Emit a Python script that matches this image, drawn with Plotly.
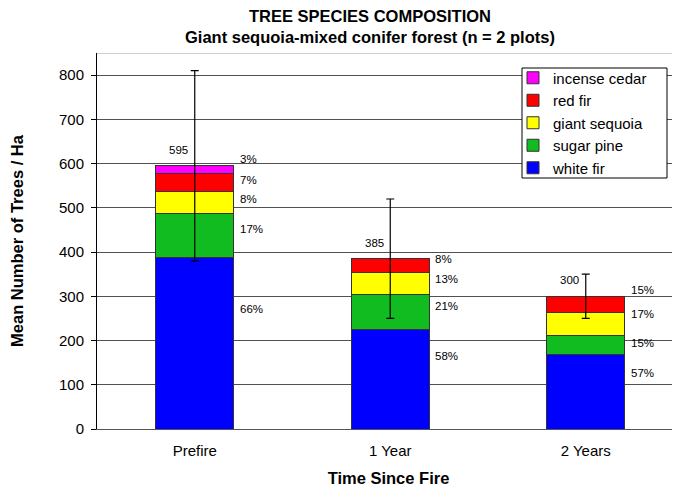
import plotly.graph_objects as go

# ---- data ----
categories = ["Prefire", "1 Year", "2 Years"]
species = ["white fir", "sugar pine", "giant sequoia", "red fir", "incense cedar"]
white_fir = [388, 224, 168]
sugar_pine = [99, 79, 44]
giant_sequoia = [51, 50, 51]
red_fir = [40, 32, 37]
incense_cedar = [17, 0, 0]
totals = [595, 385, 300]
error_sd = [215, 135, 50]
pct_labels = [
    ["66%", "17%", "8%", "7%", "3%"],
    ["58%", "21%", "13%", "8%", ""],
    ["57%", "15%", "17%", "15%", ""],
]
# label anchor heights (in y-axis units) as placed in the original chart
pct_label_y = [
    [271, 453, 521, 564, 611],
    [165, 278, 340, 385, None],
    [126, 195, 260, 315, None],
]
colors = ["#0000FF", "#10BC20", "#FFFF00", "#FF0000", "#FF00FF"]

FONT = "Liberation Sans, Arial, sans-serif"
series = [white_fir, sugar_pine, giant_sequoia, red_fir, incense_cedar]
xpos = list(range(len(categories)))

# page body has an 8px default margin; compensate so the chart lands at the
# same pixel positions as the 680x488 reference
OFF = 8
W, H = 680 - OFF, 488 - OFF
ml, mr, mt, mb = 97 - OFF, 0, 53 - OFF, 59
pw, ph = W - ml - mr, H - mt - mb


def px_x(px):
    return (px - OFF - ml) / pw


def px_y(py):
    return (H - mb - (py - OFF)) / ph


fig = go.Figure()
n = len(species)
for i, (name, vals) in enumerate(zip(species, series)):
    fig.add_trace(go.Bar(
        x=xpos, y=vals, name=name, width=0.4,
        marker=dict(color=colors[i], line=dict(color="#333333", width=1)),
        legendrank=n - i, hoverinfo="skip",
    ))

fig.add_trace(go.Scatter(
    x=xpos, y=totals, mode="markers", marker=dict(size=0.1, color="rgba(0,0,0,0)"),
    error_y=dict(type="data", array=error_sd, visible=True, color="black",
                 thickness=1.2, width=4),
    showlegend=False, hoverinfo="skip",
))

annotations = []
for ci in xpos:
    for si, lab in enumerate(pct_labels[ci]):
        if lab and pct_label_y[ci][si] is not None:
            annotations.append(dict(
                x=ci + 0.2, y=pct_label_y[ci][si], xref="x", yref="y",
                text=lab, showarrow=False, xanchor="left", yanchor="middle",
                xshift=4, font=dict(family=FONT, size=11.5, color="black")))
    annotations.append(dict(
        x=ci, y=totals[ci], xref="x", yref="y", text=str(totals[ci]),
        showarrow=False, xanchor="center", yanchor="bottom",
        xshift=-16, yshift=8, font=dict(family=FONT, size=11.5, color="black")))

# titles (pixel positions in the 680x488 window)
titles = [("<b>TREE SPECIES COMPOSITION</b>", 370, 15.5),
          ("<b>Giant sequoia-mixed conifer forest (n = 2 plots)</b>", 370, 37)]
for txt, px, py in titles:
    annotations.append(dict(
        text=txt, xref="paper", yref="paper", showarrow=False,
        x=px_x(px), y=px_y(py), xanchor="center", yanchor="middle",
        font=dict(family=FONT, size=16.5, color="black")))

fig.update_layout(
    width=W, height=H,
    margin=dict(l=ml, r=mr, t=mt, b=mb, pad=0, autoexpand=False),
    barmode="stack",
    plot_bgcolor="white", paper_bgcolor="white",
    font=dict(family=FONT, color="black"),
    showlegend=True,
    legend=dict(
        traceorder="normal", itemwidth=30,
        x=px_x(513), y=px_y(61.5), xanchor="left", yanchor="top",
        bgcolor="rgba(0,0,0,0)", borderwidth=0,
        font=dict(family=FONT, size=15, color="black"),
    ),
    annotations=annotations,
    shapes=[
        dict(type="line", xref="paper", yref="y", x0=0, x1=1, y0=850, y1=850,
             line=dict(color="#A0A0A0", width=1)),
        # legend frame
        dict(type="rect", xref="paper", yref="paper", layer="above",
             x0=px_x(522), x1=px_x(667), y0=px_y(178), y1=px_y(68),
             fillcolor="white", line=dict(color="black", width=1)),
    ],
)
fig.update_xaxes(
    range=[-0.5, -0.5 + pw / 195.5],
    tickvals=xpos, ticktext=categories, ticks="", ticklabelstandoff=8,
    showline=True, linecolor="#555555", linewidth=1,
    showgrid=False, zeroline=False,
    tickfont=dict(family=FONT, size=15, color="black"),
    title=dict(text="<b>Time Since Fire</b>", standoff=14,
               font=dict(family=FONT, size=16.5, color="black")),
)
fig.update_yaxes(
    range=[0, 850], dtick=100, tick0=0,
    showline=True, linecolor="black", linewidth=1,
    ticks="outside", ticklen=5, tickcolor="black", ticklabelstandoff=4,
    showgrid=True, gridcolor="#505050", gridwidth=1, zeroline=False,
    tickfont=dict(family=FONT, size=15, color="black"),
    title=dict(text="<b>Mean Number of Trees / Ha</b>", standoff=31,
               font=dict(family=FONT, size=16.5, color="black")),
)

fig.write_html("out.html")
